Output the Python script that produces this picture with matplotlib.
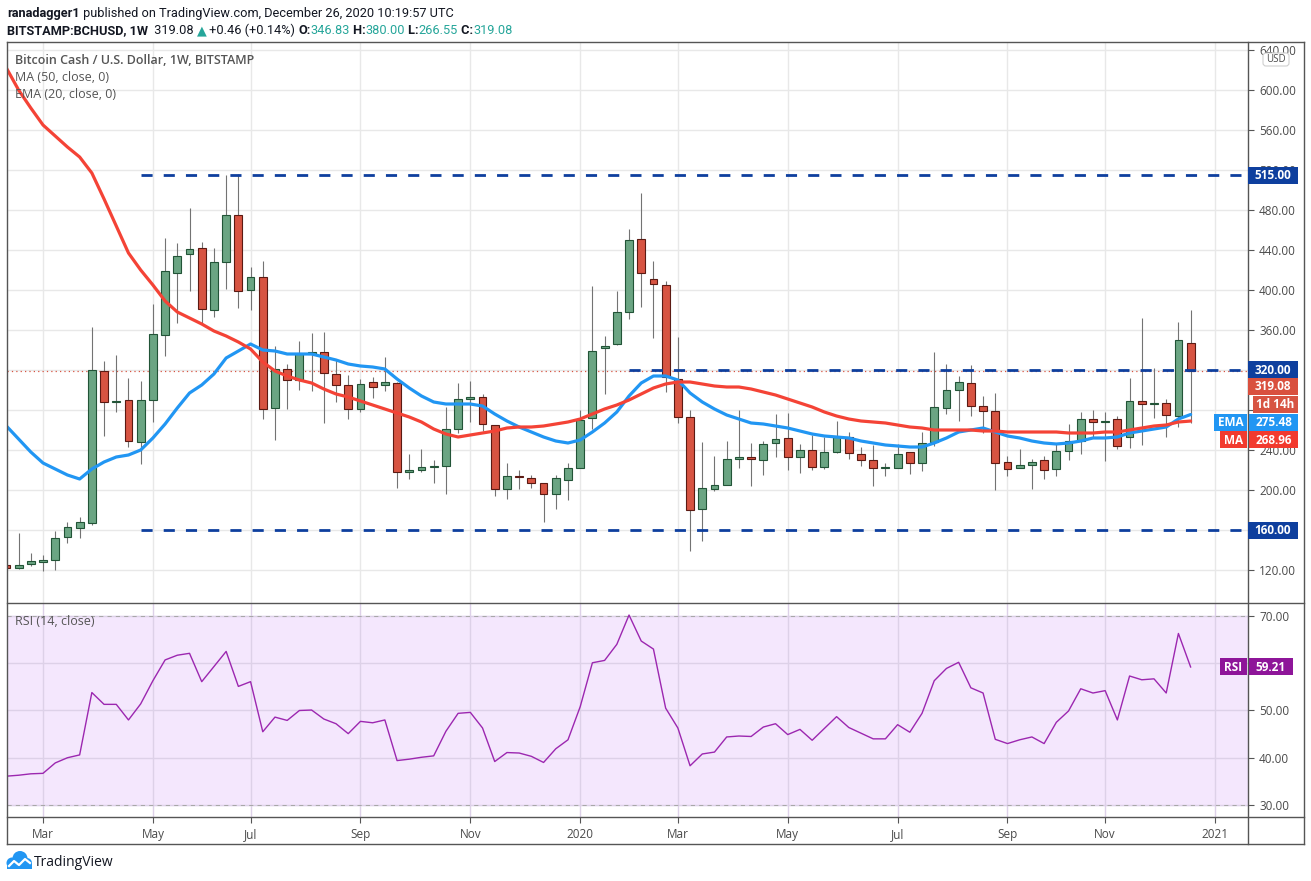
import numpy as np
import pandas as pd
import matplotlib
matplotlib.use('Agg')
import matplotlib.pyplot as plt
from matplotlib.patches import Rectangle, FancyBboxPatch, Circle
from matplotlib.lines import Line2D

plt.rcParams['font.family'] = ['Open Sans', 'DejaVu Sans']

W, H = 1311, 881

# weekly candles BITSTAMP:BCHUSD, first bar = week of 2019-02-11
week_start = '2019-02-11'
opens = [125, 122, 126, 128, 130, 153, 162, 167, 319, 288, 290, 248, 290, 355, 417, 436, 442, 380, 428, 475,
         400, 413, 282, 321, 310, 336, 338, 316, 305, 281, 308, 305, 307, 218, 220, 223, 224, 261, 291, 293,
         265, 201, 214, 212, 207, 196, 210, 222, 272, 342, 346, 378, 451, 411, 405, 311, 273, 181, 201, 205,
         231, 233, 230, 247, 252, 233, 240, 223, 238, 253, 236, 230, 222, 222, 238, 227, 248, 282, 300, 307,
         284, 279, 228, 222, 225, 230, 221, 239, 249, 271, 268, 271, 253, 289, 286, 287, 274, 346.83]
highs = [126, 157, 137, 135, 159, 168, 173, 363, 329, 335, 312, 309, 386, 452, 447, 482, 448, 442, 515, 516,
         423, 429, 344, 326, 349, 357, 358, 330, 315, 311, 313, 333, 308, 236, 241, 230, 283, 307, 309, 296,
         265, 227, 220, 215, 207, 215, 227, 280, 404, 354, 399, 461, 497, 429, 409, 353, 280, 248, 234, 249,
         280, 247, 249, 276, 277, 246, 255, 253, 269, 258, 243, 245, 227, 246, 238, 258, 338, 326, 314, 325,
         294, 297, 234, 241, 231, 234, 246, 266, 278, 280, 278, 274, 312, 372, 322, 291, 368, 380.00]
lows = [116, 121, 124, 119, 120, 147, 152, 165, 254, 278, 243, 226, 268, 334, 367, 399, 366, 373, 401, 382,
        380, 271, 250, 281, 300, 299, 267, 288, 271, 278, 292, 299, 202, 211, 218, 207, 196, 257, 268, 259,
        194, 191, 201, 202, 168, 181, 190, 222, 261, 296, 345, 371, 383, 352, 298, 267, 139, 149, 199, 205,
        222, 204, 215, 233, 220, 217, 220, 221, 237, 231, 224, 204, 214, 222, 216, 219, 244, 276, 269, 274,
        257, 200, 214, 222, 201, 211, 214, 230, 236, 253, 229, 241, 242, 245, 272, 253, 263, 266.55]
closes = [122, 125, 129, 130, 152, 163, 168, 320, 288, 289, 249, 290, 356, 419, 434, 441, 381, 428, 475, 399,
          413, 281, 321, 310, 336, 338, 317, 305, 281, 306, 303, 308, 218, 220, 223, 224, 261, 291, 293, 266,
          201, 214, 213, 207, 196, 212, 222, 270, 339, 344, 378, 450, 417, 406, 313, 273, 180, 202, 205, 231,
          233, 231, 246, 251, 233, 240, 223, 238, 253, 237, 230, 222, 223, 236, 227, 247, 283, 300, 308, 284,
          279, 227, 221, 225, 228, 220, 239, 249, 271, 268, 269, 244, 289, 286, 286.5, 275, 350, 319.08]

ma50 = [622, 600, 582, 565, 554, 543, 533, 517, 491, 464, 437, 420, 405, 389, 378, 372, 366, 359, 354, 348,
        341, 328, 319, 314, 310, 307, 301, 296, 293, 289, 285, 281, 277, 273, 268, 261, 256, 253, 255, 257,
        259, 262, 263, 263, 264, 266, 268, 271, 276, 281, 285, 290, 296, 302, 306, 308, 308, 306, 304, 303,
        303, 301, 298, 295, 291, 287, 283, 278, 274, 271, 269, 268, 267, 265, 263, 262, 260, 260, 260, 260,
        259, 259, 258, 258, 258, 258, 258, 257, 257, 257, 258, 258, 260, 262, 264, 265, 268, 268.96]
ema20 = [264, 251, 238, 227, 221, 215, 211, 221, 228, 233, 235, 240, 252, 266, 282, 297, 305, 316, 332, 339,
         346, 340, 339, 336, 336, 336, 333, 330, 326, 324, 323, 321, 311, 302, 294, 288, 286, 286, 286, 284,
         276, 269, 263, 258, 253, 249, 247, 250, 258, 267, 278, 294, 307, 314, 314, 310, 297, 288, 281, 275,
         271, 267, 266, 264, 262, 259, 256, 254, 253, 252, 249, 247, 245, 244, 243, 243, 247, 252, 258, 260,
         262, 258, 254, 252, 249, 247, 246, 247, 249, 252, 252, 253, 257, 259, 261, 263, 271, 275.48]
rsi = [36.1, 36.3, 36.6, 36.7, 38.9, 40.0, 40.6, 53.8, 51.3, 51.3, 48.0, 51.4, 56.3, 60.7, 61.7, 62.1, 56.1, 59.3,
       62.5, 55.1, 56.1, 45.5, 48.6, 47.9, 50.0, 50.1, 48.2, 47.2, 45.1, 47.7, 47.4, 48.0, 39.4, 39.7, 40.1, 40.4,
       45.6, 49.4, 49.6, 46.3, 39.2, 41.1, 41.0, 40.3, 39.0, 41.9, 43.8, 50.8, 60.1, 60.6, 64.0, 70.2, 64.7, 63.0,
       50.5, 46.3, 38.3, 40.8, 41.2, 44.4, 44.6, 44.5, 46.5, 47.2, 44.9, 46.0, 43.7, 46.2, 48.7, 46.4, 45.2, 44.0,
       44.0, 47.0, 45.4, 49.4, 56.3, 58.9, 60.2, 54.8, 53.7, 43.9, 43.0, 43.8, 44.4, 43.0, 47.5, 49.9, 54.6, 53.7,
       54.2, 48.0, 57.3, 56.5, 56.7, 53.7, 66.3, 59.21]

levels = [515, 320, 160]
level_start = [11, 51, 11]
price_ticks = list(range(120, 641, 40))
hidden_price_labels = [160, 280, 320]   # covered by the price tags
rsi_ticks = [30, 40, 50, 60, 70]
hidden_rsi_labels = [60]

GREEN, GREEN_EDGE = '#6ba583', '#225437'
RED, RED_EDGE = '#d75442', '#5b1a13'
BLUE_LVL = '#0e3f9e'
MA_COL, EMA_COL = '#f44336', '#2196f3'
RSI_COL = '#9c27b0'
TXT = '#4a4a4a'
FRAME = '#555555'
TEAL = '#26a69a'
DARK = '#131722'

fig = plt.figure(figsize=(W / 100, H / 100), dpi=100)
inch = fig.dpi_scale_trans


def P(x, y):
    # pixel (from top-left) -> inches for dpi_scale_trans
    return x / 100, (H - y) / 100


ax = fig.add_axes([7 / W, 1 - 603 / H, (1248 - 7) / W, (603 - 42) / H])
ax2 = fig.add_axes([7 / W, 1 - 817 / H, (1248 - 7) / W, (817 - 603) / H], sharex=ax)

n = len(closes)
x = np.arange(n)
o = np.array(opens, float)
c = np.array(closes, float)
up = c >= o
bottom = np.minimum(o, c)
height = np.maximum(np.abs(c - o), 1.0)

ax.vlines(x, lows, highs, color='#737373', lw=0.8, zorder=2)
ax.bar(x[up], height[up], bottom=bottom[up], width=0.64, color=GREEN, edgecolor=GREEN_EDGE, lw=0.8, zorder=3)
ax.bar(x[~up], height[~up], bottom=bottom[~up], width=0.64, color=RED, edgecolor=RED_EDGE, lw=0.8, zorder=3)
ax.plot(x, ema20, color=EMA_COL, lw=2.3, zorder=4, solid_capstyle='round')
ax.plot(x, ma50, color=MA_COL, lw=2.3, zorder=4, solid_capstyle='round')

ax.set_xlim(0.05, 101.7)
ax.set_ylim(87, 648)
for lv, st in zip(levels, level_start):
    ax.hlines(lv, st, 101.7, colors=BLUE_LVL, lw=2.0, linestyles=(0, (4, 4)), zorder=5)
ax.axhline(closes[-1], color=RED, lw=0.9, ls=(0, (1, 2.5)), zorder=1.5)

# x ticks at the first weekly bar of every other month
all_dates = pd.date_range(week_start, periods=n + 4, freq='W-MON')
tick_pos, tick_lab = [], []
for i in range(1, len(all_dates)):
    d = all_dates[i]
    if d.month != all_dates[i - 1].month and d.month % 2 == 1:
        tick_pos.append(i)
        tick_lab.append(str(d.year) if d.month == 1 else d.strftime('%b'))

for a in (ax, ax2):
    for s in a.spines.values():
        s.set_visible(False)
    a.set_xticks(tick_pos)
    a.yaxis.tick_right()
    a.tick_params(axis='y', length=4, width=0.8, color=FRAME, labelcolor=TXT, labelsize=8.5, pad=4)
    a.set_axisbelow(True)

ax.grid(True, color='#e8e8e8', lw=1.0)
ax.tick_params(axis='x', length=0, labelbottom=False)
ax.set_yticks(price_ticks)
ax.set_yticklabels(['' if v in hidden_price_labels else f'{v:.2f}' for v in price_ticks])

# RSI panel
ax2.axhspan(30, 70, color='#f4e7fd', zorder=0)
ax2.grid(True, color='#ddd1e8', lw=1.0, zorder=0.5)
for lv in (30, 70):
    ax2.axhline(lv, color='#a8a8a8', lw=0.75, ls=(0, (4, 4)), zorder=1)
ax2.plot(x, rsi, color=RSI_COL, lw=1.0, zorder=3)
ax2.set_ylim(27.46, 72.75)
ax2.set_yticks(rsi_ticks)
ax2.set_yticklabels(['' if v in hidden_rsi_labels else f'{v:.2f}' for v in rsi_ticks])
ax2.set_xticklabels(tick_lab)
ax2.tick_params(axis='x', length=4, width=0.8, color=FRAME, labelcolor=TXT, labelsize=8.5, pad=4)

# frame lines
frame = [((7, 42), (1304, 42)), ((7, 844), (1304, 844)), ((7, 42), (7, 844)), ((1304, 42), (1304, 844)),
         ((1248, 42), (1248, 844)), ((7, 603), (1304, 603)), ((7, 817), (1304, 817))]
for (x0, y0), (x1, y1) in frame:
    p0, p1 = P(x0, y0), P(x1, y1)
    fig.add_artist(Line2D([p0[0], p1[0]], [p0[1], p1[1]], transform=inch, color=FRAME, lw=1.0, zorder=4))


def ypix(a, v):
    return H - a.transData.transform((0, v))[1]


def tag(yc, text, fc, x0=1248, x1=1298):
    fig.add_artist(Rectangle(P(x0, yc + 8.5), (x1 - x0) / 100, 0.17, transform=inch, fc=fc, ec='none', zorder=5))
    fig.text(*P((x0 + x1) / 2, yc + 0.5), text, transform=inch, ha='center', va='center', color='white',
             fontsize=8.5, fontweight='bold', zorder=6)


for lv in levels:
    tag(ypix(ax, lv), f'{lv:.2f}', BLUE_LVL)
tag(386.5, f'{closes[-1]:.2f}', '#d9503e')
tag(404, '1d 14h', '#d75442', x0=1253)
tag(422, 'EMA', EMA_COL, x0=1214, x1=1247)
tag(422, f'{ema20[-1]:.2f}', EMA_COL, x0=1249)
tag(439.5, 'MA', '#f23a2e', x0=1220, x1=1247)
tag(439.5, f'{ma50[-1]:.2f}', '#f23a2e', x0=1249)
tag(ypix(ax2, rsi[-1]), 'RSI', '#8e1599', x0=1220, x1=1247)
tag(ypix(ax2, rsi[-1]), f'{rsi[-1]:.2f}', '#8e1599', x0=1249, x1=1293)

# USD badge
fig.add_artist(FancyBboxPatch(P(1263, 66), 0.26, 0.13, boxstyle='round,pad=0,rounding_size=0.03', transform=inch,
                              fc='white', ec='#cfcfcf', lw=0.8, zorder=5))
fig.text(*P(1276, 59.5), 'USD', transform=inch, ha='center', va='center', fontsize=7, color=TXT, zorder=6)

# legends inside panes
fig.text(*P(15, 64), 'Bitcoin Cash / U.S. Dollar, 1W, BITSTAMP', transform=inch, fontsize=9, color='#555555',
         fontweight='semibold', va='baseline')
fig.text(*P(15, 81), 'MA (50, close, 0)', transform=inch, fontsize=9, color='#555555', va='baseline')
fig.text(*P(15, 98), 'EMA (20, close, 0)', transform=inch, fontsize=9, color='#555555', va='baseline')
fig.text(*P(15, 625), 'RSI (14, close)', transform=inch, fontsize=9, color='#555555', va='baseline')

# header
renderer = fig.canvas.get_renderer()


def pieces(x0, y0, parts, size=9.2):
    xc = x0
    for s, col, wt in parts:
        t = fig.text(*P(xc, y0), s, transform=inch, fontsize=size, color=col, fontweight=wt, va='baseline',
                     family=['Roboto', 'DejaVu Sans'])
        xc += t.get_window_extent(renderer).width


pieces(7, 17, [('ranadagger1', DARK, 'bold'),
               (' published on TradingView.com, December 26, 2020 10:19:57 UTC', DARK, 'normal')])
pieces(7, 34, [('BITSTAMP:BCHUSD, 1W', DARK, 'bold'), ('  319.08 ', DARK, 'normal'), ('\u25b2', TEAL, 'normal'),
               (' +0.46 (+0.14%) ', DARK, 'normal'), ('O:', DARK, 'bold'), ('346.83', TEAL, 'normal'),
               (' H:', DARK, 'bold'), ('380.00', TEAL, 'normal'), (' L:', DARK, 'bold'), ('266.55', TEAL, 'normal'),
               (' C:', DARK, 'bold'), ('319.08', TEAL, 'normal')])

# footer logo
for cx, cy, r in [(12, 863, 5.5), (20, 858.5, 7.5), (27, 863, 5)]:
    fig.add_artist(Circle(P(cx, cy), r / 100, transform=inch, fc='#2196f3', ec='none', zorder=5))
fig.add_artist(Rectangle(P(7, 869), 0.25, 0.07, transform=inch, fc='#2196f3', ec='none', zorder=5))
zz = [P(9, 866), P(14, 861), P(19, 865), P(25, 859), P(30, 863)]
fig.add_artist(Line2D([p[0] for p in zz], [p[1] for p in zz], transform=inch, color='white', lw=1.6, zorder=6))
fig.text(*P(34, 862), 'TradingView', transform=inch, fontsize=10, color=DARK, va='center')

fig.savefig('out.png', dpi=100)
